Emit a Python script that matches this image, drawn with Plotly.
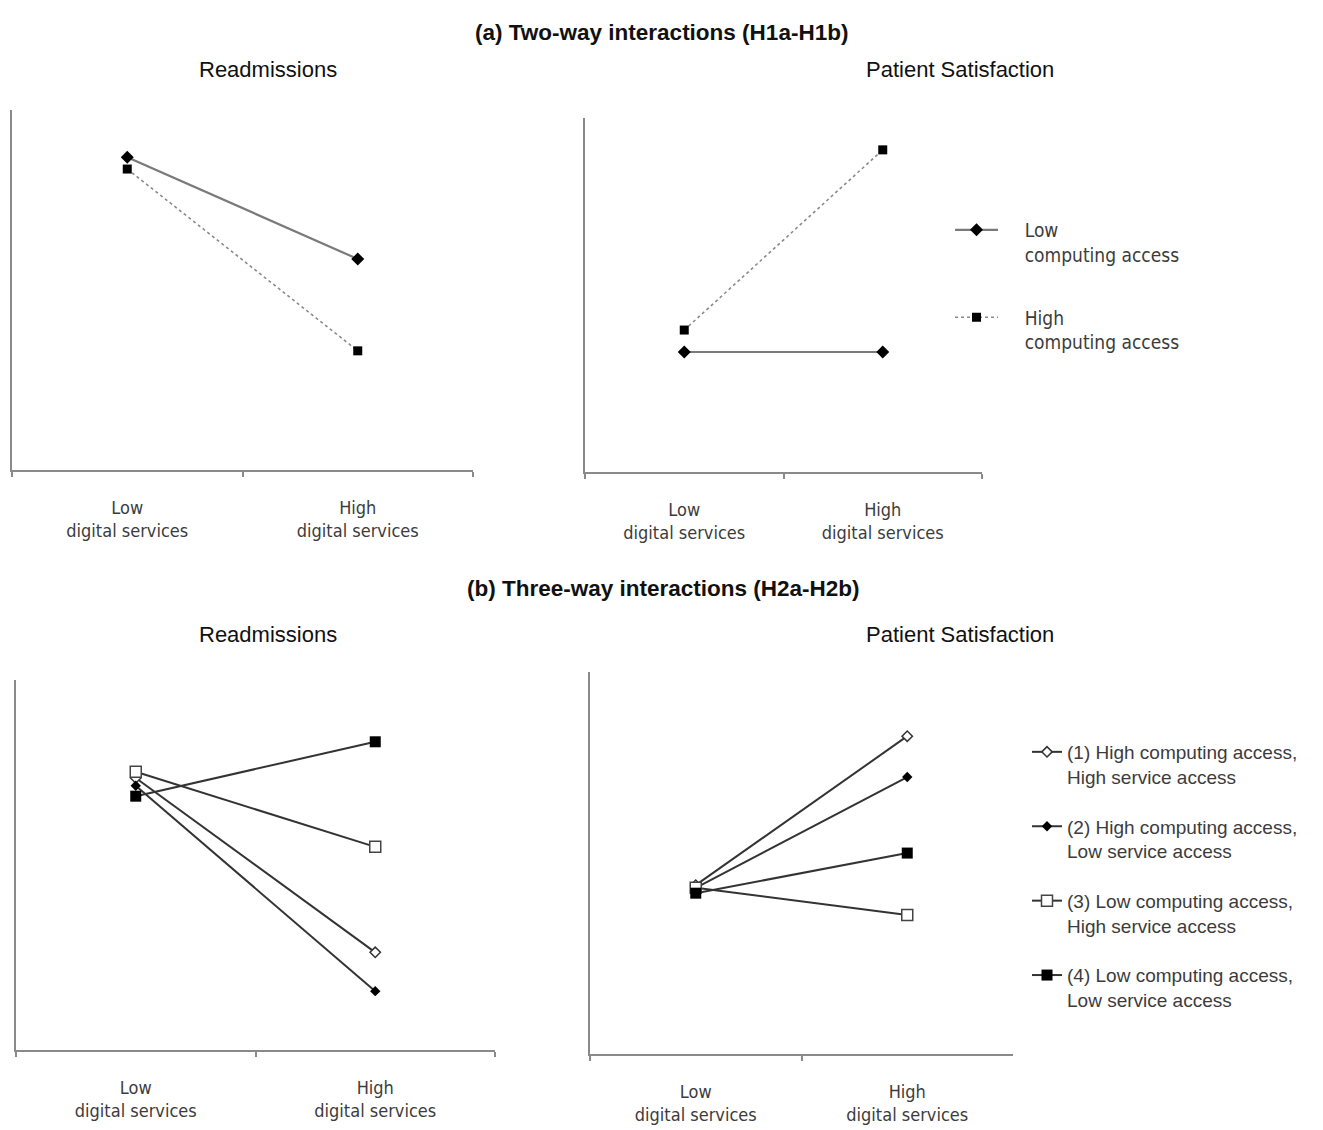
import plotly.graph_objects as go

# ---------------- data ----------------
categories = ["Low<br>digital services", "High<br>digital services"]

# (a) Two-way interactions
a_read_low_comp = [8.69, 5.86]
a_read_high_comp = [8.36, 3.31]
a_sat_low_comp = [3.39, 3.39]
a_sat_high_comp = [4.01, 9.10]
a_names = ["Low<br>computing access", "High<br>computing access"]

# (b) Three-way interactions
b_names = [
    "(1) High computing access,<br>High service access",
    "(2) High computing access,<br>Low service access",
    "(3) Low computing access,<br>High service access",
    "(4) Low computing access,<br>Low service access",
]
b_read = [
    [7.35, 2.64],
    [7.14, 1.59],
    [7.52, 5.49],
    [6.86, 8.33],
]
b_sat = [
    [4.42, 8.32],
    [4.35, 7.25],
    [4.35, 3.64],
    [4.21, 5.26],
]

titles = ["(a) Two-way interactions (H1a-H1b)", "(b) Three-way interactions (H2a-H2b)"]
subtitles = ["Readmissions", "Patient Satisfaction"]

# ---------------- styles ----------------
W, H = 1323, 1130
NARROW = "DejaVu Sans Condensed, DejaVu Sans, sans-serif"
ARIAL = "Liberation Sans, Arial, sans-serif"
AXIS_COL = "#8a8a8a"
TXT_COL = "#3c3c3c"
PAD = "\u00a0" * 4

fig = go.Figure()

# panel a traces
a_styles = [
    dict(line=dict(color="#7a7a7a", width=2.2, dash="solid"),
         marker=dict(symbol="diamond", size=10, color="black")),
    dict(line=dict(color="#8a8a8a", width=1.6, dash="dot"),
         marker=dict(symbol="square", size=9, color="black")),
]
for i, (yl, yr) in enumerate([(a_read_low_comp, a_sat_low_comp), (a_read_high_comp, a_sat_high_comp)]):
    label = PAD + a_names[i].replace("<br>", "<br>" + PAD)
    fig.add_trace(go.Scatter(x=categories, y=yl, mode="lines+markers", name=label,
                             xaxis="x", yaxis="y", showlegend=False, **a_styles[i]))
    fig.add_trace(go.Scatter(x=categories, y=yr, mode="lines+markers", name=label,
                             xaxis="x2", yaxis="y2", legend="legend", legendgroup="a%d" % i,
                             showlegend=True, **a_styles[i]))

# panel b traces
b_markers = [
    dict(symbol="diamond", size=8, color="white", line=dict(width=1.5, color="#333333")),
    dict(symbol="diamond", size=8, color="black"),
    dict(symbol="square", size=11, color="white", line=dict(width=1.5, color="#444444")),
    dict(symbol="square", size=11, color="black"),
]
for i in range(4):
    m = b_markers[i]
    fig.add_trace(go.Scatter(x=categories, y=b_read[i], mode="lines+markers", name=b_names[i],
                             xaxis="x3", yaxis="y3", showlegend=False,
                             line=dict(color="#333333", width=2), marker=m))
    fig.add_trace(go.Scatter(x=categories, y=b_sat[i], mode="lines+markers", name=b_names[i],
                             xaxis="x4", yaxis="y4", legend="legend2", legendgroup="b%d" % i,
                             showlegend=True, line=dict(color="#333333", width=2), marker=m))


def px_x(p):
    return p / W


def px_y(p):
    return 1 - p / H


def xaxis(x0, x1, anchor):
    return dict(domain=[px_x(x0), px_x(x1)], anchor=anchor, type="category",
                range=[-0.5, 1.5], showline=True, linecolor=AXIS_COL, linewidth=2,
                ticks="outside", tickson="boundaries", ticklen=5, tickcolor=AXIS_COL,
                tickwidth=1.5, showgrid=False, zeroline=False, ticklabelstandoff=20,
                tickfont=dict(family=NARROW, size=18, color=TXT_COL), fixedrange=True)


def yaxis(y_bottom, y_top, anchor):
    return dict(domain=[px_y(y_bottom), px_y(y_top)], anchor=anchor, range=[0, 10],
                showline=True, linecolor=AXIS_COL, linewidth=2, showticklabels=False,
                ticks="", showgrid=False, zeroline=False, fixedrange=True)


fig.update_layout(
    width=W, height=H,
    margin=dict(l=0, r=0, t=0, b=0),
    paper_bgcolor="white", plot_bgcolor="white",
    xaxis=xaxis(12, 473, "y"), yaxis=yaxis(470, 110, "x"),
    xaxis2=xaxis(585, 982, "y2"), yaxis2=yaxis(472, 118, "x2"),
    xaxis3=xaxis(16, 495, "y3"), yaxis3=yaxis(1050, 680, "x3"),
    xaxis4=xaxis(590, 1013, "y4"), yaxis4=yaxis(1054, 672, "x4"),
    legend=dict(x=px_x(950), y=px_y(211), xanchor="left", yanchor="top",
                font=dict(family=NARROW, size=19, color=TXT_COL),
                itemwidth=43, valign="top", traceorder="grouped", tracegroupgap=35,
                bgcolor="rgba(0,0,0,0)"),
    legend2=dict(x=px_x(1027), y=px_y(733), xanchor="left", yanchor="top",
                 font=dict(family=ARIAL, size=19, color=TXT_COL),
                 itemwidth=30, valign="top", traceorder="grouped", tracegroupgap=22,
                 bgcolor="rgba(0,0,0,0)"),
)

ann = []
ann.append(dict(text="<b>%s</b>" % titles[0], x=px_x(661), y=px_y(32)))
ann.append(dict(text="<b>%s</b>" % titles[1], x=px_x(663), y=px_y(588)))
ann.append(dict(text=subtitles[0], x=px_x(268), y=px_y(70)))
ann.append(dict(text=subtitles[1], x=px_x(960), y=px_y(70)))
ann.append(dict(text=subtitles[0], x=px_x(268), y=px_y(634)))
ann.append(dict(text=subtitles[1], x=px_x(960), y=px_y(634)))
for k, a in enumerate(ann):
    fig.add_annotation(xref="paper", yref="paper", showarrow=False, xanchor="center",
                       yanchor="middle",
                       font=dict(family=ARIAL, size=22.5 if k < 2 else 22, color="#111111"),
                       **a)

fig.write_html("out.html", config={"displayModeBar": False},
               post_script="document.body.style.margin='0';")
